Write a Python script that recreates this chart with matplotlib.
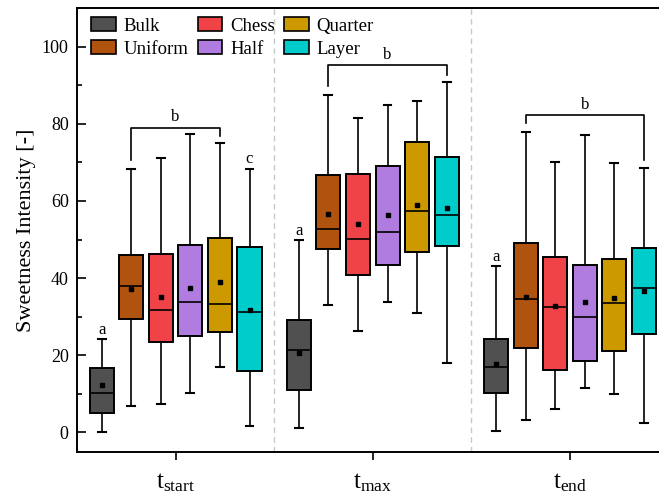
import numpy as np
import matplotlib
matplotlib.use("Agg")
import matplotlib.pyplot as plt
from matplotlib.patches import Patch
from matplotlib.ticker import MultipleLocator

# serif font close to Times, also for the subscripts in the tick labels
plt.rcParams["font.family"] = "Liberation Serif"
plt.rcParams["mathtext.fontset"] = "custom"
plt.rcParams["mathtext.rm"] = "Liberation Serif"
plt.rcParams["mathtext.it"] = "Liberation Serif:italic"

# data
groups = [r"$\mathrm{t}_{\mathrm{start}}$", r"$\mathrm{t}_{\mathrm{max}}$", r"$\mathrm{t}_{\mathrm{end}}$"]
samples = ["Bulk", "Uniform", "Chess", "Half", "Quarter", "Layer"]
colors = ["#505050", "#B0530E", "#F04347", "#B07CE0", "#CC9900", "#00CCCC"]

# one row per group, one column per sample
whisker_low = [[0.0, 6.8, 7.4, 10.3, 17.0, 1.7],
               [1.2, 33.0, 26.2, 33.8, 31.0, 18.0],
               [0.2, 3.3, 6.0, 11.6, 10.0, 2.5]]
quartile_1 = [[4.9, 29.4, 23.5, 24.9, 25.9, 15.8],
              [11.0, 47.5, 40.8, 43.4, 46.8, 48.4],
              [10.2, 21.8, 16.1, 18.5, 21.1, 25.4]]
median = [[10.2, 37.9, 31.8, 33.8, 33.4, 31.1],
          [21.3, 52.7, 50.1, 52.0, 57.5, 56.4],
          [16.8, 34.5, 32.5, 29.9, 33.6, 37.5]]
quartile_3 = [[16.6, 46.0, 46.2, 48.7, 50.3, 48.1],
              [29.0, 66.8, 67.0, 69.1, 75.4, 71.5],
              [24.1, 49.2, 45.5, 43.5, 45.0, 47.7]]
whisker_high = [[24.2, 68.3, 71.2, 77.4, 75.0, 68.3],
                [49.9, 87.6, 81.5, 84.8, 85.9, 90.9],
                [43.2, 78.0, 70.2, 77.2, 69.8, 68.5]]
mean = [[12.2, 37.1, 35.1, 37.4, 39.0, 31.8],
        [20.6, 56.6, 54.0, 56.4, 59.0, 58.3],
        [17.7, 35.1, 32.7, 33.8, 34.8, 36.6]]

# significance letters: (group, sample index, height, letter)
single_letters = [(0, 0, 26.5, "a"), (0, 5, 71.0, "c"), (1, 0, 52.3, "a"), (2, 0, 45.5, "a")]
# brackets: group, first sample, last sample, bar height, left leg end, right leg end, letter height
brackets = [(0, 1, 4, 78.9, 70.6, 76.9, 81.8),
            (1, 1, 5, 95.2, 89.8, 92.8, 98.0),
            (2, 1, 5, 82.4, 80.2, 70.7, 85.0)]

# **** plot ********************************************
char_size = 13
lw = 1.2
box_step = 0.15
box_width = 0.122

fig = plt.figure(figsize = (6.59, 5.0), dpi = 100)
# right edge of the axes lies outside the picture, as in the reference
ax = fig.add_axes([0.1168, 0.097, 0.8977, 0.8864])

for g in range(len(groups)):
    for s in range(len(samples)):
        pos = g + 1 + (s - 2.5) * box_step
        stats = [dict(whislo = whisker_low[g][s], q1 = quartile_1[g][s], med = median[g][s],
                      q3 = quartile_3[g][s], whishi = whisker_high[g][s], mean = mean[g][s])]
        ax.bxp(stats, positions = [pos], widths = box_width, capwidths = 0.04,
               patch_artist = True, showmeans = True, showfliers = False,
               boxprops = dict(facecolor = colors[s], edgecolor = "black", linewidth = lw + 0.2),
               medianprops = dict(color = "black", linewidth = lw),
               whiskerprops = dict(color = "black", linewidth = lw),
               capprops = dict(color = "black", linewidth = lw + 0.3),
               meanprops = dict(marker = "s", markerfacecolor = "black", markeredgecolor = "black", markersize = 3.5),
               manage_ticks = False)

# dashed separators between the groups
for x in [1.5, 2.5]:
    ax.axvline(x, color = "#c8c8c8", linestyle = (0, (4, 3)), linewidth = 1.0, zorder = 0)

# letters above single boxes
for g, s, h, letter in single_letters:
    ax.text(g + 1 + (s - 2.5) * box_step, h, letter, ha = "center", va = "center", fontsize = 12)

# brackets with letter
for g, s1, s2, h, left_end, right_end, text_h in brackets:
    x1 = g + 1 + (s1 - 2.5) * box_step
    x2 = g + 1 + (s2 - 2.5) * box_step
    ax.plot([x1, x1, x2, x2], [left_end, h, h, right_end], color = "black", linewidth = lw)
    ax.text((x1 + x2) / 2, text_h, "b", ha = "center", va = "center", fontsize = 12)

ax.set_xlim(0.5, 3.5)
ax.set_ylim(-5, 110)
ax.set_xticks([1, 2, 3])
ax.set_xticklabels(groups, fontsize = 18)
ax.yaxis.set_major_locator(MultipleLocator(20))
ax.yaxis.set_minor_locator(MultipleLocator(10))
ax.set_yticks([0, 20, 40, 60, 80, 100])
ax.tick_params(axis = "y", which = "major", direction = "in", length = 6.5, width = lw, labelsize = char_size, pad = 6)
ax.tick_params(axis = "y", which = "minor", direction = "in", length = 3.5, width = lw)
ax.tick_params(axis = "x", which = "major", direction = "out", length = 5.5, width = lw, pad = 9)
ax.set_ylabel("Sweetness Intensity [-]", fontsize = 16, labelpad = 4)
for side in ["left", "bottom", "top"]:
    ax.spines[side].set_linewidth(lw + 0.2)
ax.spines["right"].set_visible(False)

# legend with three columns
handles = [Patch(facecolor = c, edgecolor = "black", linewidth = lw) for c in colors]
ax.legend(handles, samples, ncol = 3, loc = "upper left", bbox_to_anchor = (0.018, 0.988),
          frameon = False, fontsize = 13.5, handlelength = 1.3, handleheight = 0.76,
          handletextpad = 0.42, columnspacing = 0.5, labelspacing = 0.3, borderpad = 0.2,
          borderaxespad = 0.0)

fig.savefig("out.png", dpi = 100)
